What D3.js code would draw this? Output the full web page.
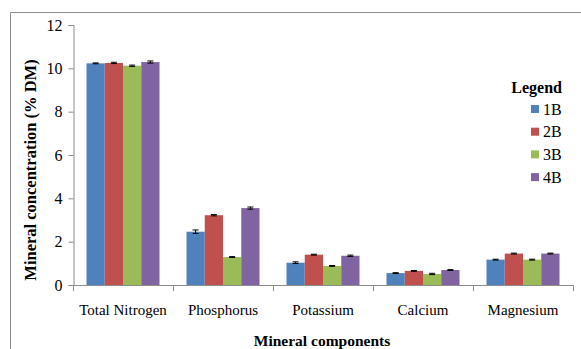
<!DOCTYPE html>
<html>
<head>
<meta charset="utf-8">
<script src="https://cdn.jsdelivr.net/npm/d3@7"></script>
<style>
  body { margin: 0; background: #fff; }
</style>
</head>
<body>
<script>
'use strict';

// chart data
let categories = ["Total Nitrogen", "Phosphorus", "Potassium", "Calcium", "Magnesium"];
let seriesNames = ["1B", "2B", "3B", "4B"];
let colors = ["#4F81BD", "#C0504D", "#9BBB59", "#8064A2"];
let values1B = [10.23, 2.46, 1.03, 0.55, 1.17];
let values2B = [10.25, 3.22, 1.40, 0.65, 1.45];
let values3B = [10.12, 1.29, 0.88, 0.51, 1.17];
let values4B = [10.29, 3.55, 1.35, 0.69, 1.45];
let errors1B = [0.02, 0.08, 0.04, 0.02, 0.02];
let errors2B = [0.03, 0.03, 0.02, 0.02, 0.02];
let errors3B = [0.03, 0.02, 0.02, 0.03, 0.02];
let errors4B = [0.05, 0.05, 0.03, 0.02, 0.02];
let yTicks = [0, 2, 4, 6, 8, 10, 12];

let allValues = [values1B, values2B, values3B, values4B];
let allErrors = [errors1B, errors2B, errors3B, errors4B];

const FONT = '"Liberation Serif", "DejaVu Serif", serif';

let svg = d3.select('body')
  .append('svg')
  .attr('width', 581)
  .attr('height', 349)
  .style('font-family', FONT);

// outer chart border (only top and left visible)
svg.append('path')
  .attr('d', 'M10.5,349 L10.5,12.5 L581,12.5')
  .attr('fill', 'none')
  .attr('stroke', '#8c8c8c')
  .attr('stroke-width', 1);

let xScale = d3.scaleBand()
  .domain(categories)
  .range([73, 573])
  .paddingInner(0.27)
  .paddingOuter(0.135);

let xSub = d3.scaleBand()
  .domain(seriesNames)
  .range([0, xScale.bandwidth()]);

let yScale = d3.scaleLinear()
  .domain([0, 12])
  .range([285, 25]);

// y axis
let yAxis = d3.axisLeft(yScale).tickValues(yTicks).tickSize(5).tickPadding(6);
let gy = svg.append('g')
  .attr('transform', 'translate(73.5,0)')
  .call(yAxis)
  .attr('font-family', null)
  .attr('font-size', null);
gy.select('.domain').attr('stroke', '#8c8c8c');
gy.selectAll('.tick line').attr('stroke', '#8c8c8c');
gy.selectAll('.tick text')
  .style('font-family', FONT)
  .style('font-size', '16px')
  .attr('fill', '#000');

// x axis: ticks at category boundaries
let xBase = yScale(0);
svg.append('line')
  .attr('x1', 73).attr('x2', 573)
  .attr('y1', xBase + 0.5).attr('y2', xBase + 0.5)
  .attr('stroke', '#8c8c8c');
let bounds = categories.map(c => xScale(c) - xScale.step() * xScale.paddingInner() / 2);
bounds.push(573);
svg.selectAll('.xtick')
  .data(bounds)
  .enter()
  .append('line')
  .attr('x1', d => Math.round(d) + 0.5)
  .attr('x2', d => Math.round(d) + 0.5)
  .attr('y1', xBase)
  .attr('y2', xBase + 6)
  .attr('stroke', '#8c8c8c');

svg.selectAll('.xlabel')
  .data(categories)
  .enter()
  .append('text')
  .attr('x', d => xScale(d) + xScale.bandwidth() / 2)
  .attr('y', 315)
  .attr('text-anchor', 'middle')
  .style('font-family', FONT)
  .style('font-size', '15px')
  .text(d => d);

// bars
let rows = [];
seriesNames.forEach((s, si) => {
  categories.forEach((c, ci) => {
    rows.push({ cat: c, series: s, si: si, value: allValues[si][ci], err: allErrors[si][ci] });
  });
});

svg.selectAll('.bar')
  .data(rows)
  .enter()
  .append('rect')
  .attr('x', d => xScale(d.cat) + xSub(d.series))
  .attr('y', d => yScale(d.value))
  .attr('width', xSub.bandwidth())
  .attr('height', d => yScale(0) - yScale(d.value))
  .attr('fill', d => colors[d.si]);

// error bars
let capHalf = 3;
let cx = d => xScale(d.cat) + xSub(d.series) + xSub.bandwidth() / 2;
let errG = svg.selectAll('.err')
  .data(rows)
  .enter()
  .append('g')
  .attr('stroke', '#000')
  .attr('stroke-width', 1);
errG.append('line')
  .attr('x1', cx)
  .attr('x2', cx)
  .attr('y1', d => yScale(d.value + d.err))
  .attr('y2', d => yScale(d.value - d.err));
errG.append('line')
  .attr('x1', d => cx(d) - capHalf)
  .attr('x2', d => cx(d) + capHalf)
  .attr('y1', d => yScale(d.value + d.err))
  .attr('y2', d => yScale(d.value + d.err));
errG.append('line')
  .attr('x1', d => cx(d) - capHalf)
  .attr('x2', d => cx(d) + capHalf)
  .attr('y1', d => yScale(d.value - d.err))
  .attr('y2', d => yScale(d.value - d.err));

// axis titles
svg.append('text')
  .attr('x', 322)
  .attr('y', 346)
  .attr('text-anchor', 'middle')
  .style('font-family', FONT)
  .style('font-size', '15.5px')
  .style('font-weight', 'bold')
  .text('Mineral components');

svg.append('text')
  .attr('transform', 'translate(36,170) rotate(-90)')
  .attr('text-anchor', 'middle')
  .style('font-family', FONT)
  .style('font-size', '16.5px')
  .style('font-weight', 'bold')
  .text('Mineral concentration (% DM)');

// legend
svg.append('text')
  .attr('x', 562)
  .attr('y', 93)
  .attr('text-anchor', 'end')
  .style('font-family', FONT)
  .style('font-size', '16px')
  .style('font-weight', 'bold')
  .text('Legend');

let legend = svg.selectAll('.legend')
  .data(seriesNames)
  .enter()
  .append('g')
  .attr('transform', (d, i) => 'translate(531,' + (109 + i * 22.7) + ')');
legend.append('rect')
  .attr('x', 0)
  .attr('y', -4)
  .attr('width', 8)
  .attr('height', 8)
  .attr('fill', (d, i) => colors[i]);
legend.append('text')
  .attr('x', 12)
  .attr('y', 5.5)
  .style('font-family', FONT)
  .style('font-size', '16px')
  .text(d => d);
</script>
</body>
</html>
